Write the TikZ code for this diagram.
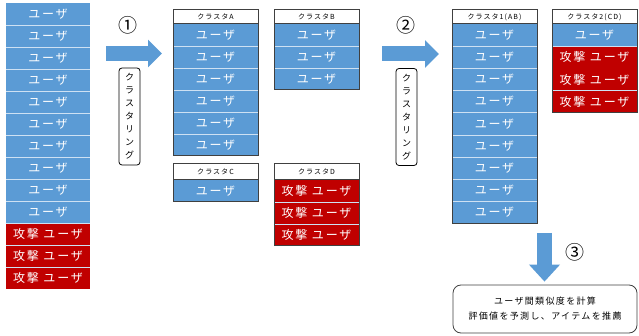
\documentclass[tikz,border=0pt]{standalone}
\usepackage{fontspec}
\usetikzlibrary{arrows.meta}
\newfontfamily\jp{Noto Sans CJK JP}
\newfontfamily\jpwide[LetterSpace=15]{Noto Sans CJK JP}
\definecolor{ublue}{HTML}{5B9BD5}
\definecolor{ared}{HTML}{C00000}
\definecolor{frame}{HTML}{404040}

\tikzset{
  cell/.style={anchor=north west, inner sep=0pt, outer sep=0pt,
    minimum width=85pt, minimum height=22pt, text=white,
    font=\jpwide\fontsize{12}{12}\selectfont},
  ucell/.style={cell, fill=ublue},
  acell/.style={cell, fill=ared},
  head/.style={anchor=north west, inner sep=0pt, outer sep=0pt,
    minimum width=85pt, minimum height=14pt, fill=white, text=black,
    font=\jpwide\fontsize{7}{7}\selectfont},
  sep/.style={white!70!ublue, line width=0.7pt},
  frm/.style={draw=frame, line width=1pt},
  blockarrow/.style={draw=ublue, line width=15pt,
    -{Triangle[length=14pt, width=27pt]}},
  numlabel/.style={inner sep=0pt, font=\jp\fontsize{19}{19}\selectfont},
  vlabel/.style={draw=black, fill=white, rounded corners=3pt, line width=0.8pt,
    inner sep=0pt, minimum width=21pt, minimum height=97pt, align=center,
    font=\jp\fontsize{9}{13}\selectfont},
  resultbox/.style={draw=frame, fill=white, rounded corners=8pt, line width=0.8pt,
    inner sep=0pt, minimum width=184pt, minimum height=48pt, align=center,
    font=\jpwide\fontsize{9}{15}\selectfont}
}

\begin{document}
\begin{tikzpicture}[x=1pt, y=-1pt]
\useasboundingbox (0,0) rectangle (639,336);

% ---- all users before clustering ----
\foreach \i in {1,...,10}
  \node[ucell, minimum width=84pt] (L\i) at (6,{3+22*(\i-1)}) {ユーザ};
\foreach \i in {11,12,13}
  \node[acell, minimum width=84pt] (L\i) at (6,{3+22*(\i-1)}) {攻撃 ユーザ};
\foreach \i in {2,...,13}
  \draw[sep] (L\i.north west) -- (L\i.north east);

% ---- step 1 ----
\node[numlabel] (n1) at (128,25) {①};
\coordinate (a1s) at (106,53.5);
\coordinate (a1e) at (162,53.5);
\draw[blockarrow] (a1s) -- (a1e);
\node[vlabel] (k1) at (129.5,116.5) {ク\\ラ\\ス\\タ\\リ\\ン\\グ};

% cluster A
\node[head] (HA) at (173,10) {クラスタA};
\foreach \i in {1,...,6}
  \node[ucell] (A\i) at (173,{24+22*(\i-1)}) {ユーザ};
\foreach \i in {2,...,6}
  \draw[sep] (A\i.north west) -- (A\i.north east);
\draw[frm] (HA.north west) rectangle (A6.south east);
\draw[frm] (HA.south west) -- (HA.south east);

% cluster B
\node[head] (HB) at (274,10) {クラスタB};
\foreach \i in {1,...,3}
  \node[ucell] (B\i) at (274,{24+22*(\i-1)}) {ユーザ};
\foreach \i in {2,3}
  \draw[sep] (B\i.north west) -- (B\i.north east);
\draw[frm] (HB.north west) rectangle (B3.south east);
\draw[frm] (HB.south west) -- (HB.south east);

% cluster C
\node[head, minimum height=16pt] (HC) at (173,164) {クラスタC};
\node[ucell] (C1) at (173,180) {ユーザ};
\draw[frm] (HC.north west) rectangle (C1.south east);
\draw[frm] (HC.south west) -- (HC.south east);

% cluster D
\node[head, minimum height=16pt] (HD) at (274,164) {クラスタD};
\foreach \i in {1,...,3}
  \node[acell] (D\i) at (274,{180+22*(\i-1)}) {攻撃 ユーザ};
\foreach \i in {2,3}
  \draw[sep] (D\i.north west) -- (D\i.north east);
\draw[frm] (HD.north west) rectangle (D3.south east);
\draw[frm] (HD.south west) -- (HD.south east);

% ---- step 2 ----
\node[numlabel] (n2) at (406,25) {②};
\coordinate (a2s) at (382,54);
\coordinate (a2e) at (439,54);
\draw[blockarrow] (a2s) -- (a2e);
\node[vlabel] (k2) at (406.5,117) {ク\\ラ\\ス\\タ\\リ\\ン\\グ};

% cluster 1 (A+B)
\node[head] (H1) at (452,10) {クラスタ1(AB)};
\foreach \i in {1,...,9}
  \node[ucell] (P\i) at (452,{24+22.2*(\i-1)}) {ユーザ};
\foreach \i in {2,...,9}
  \draw[sep] (P\i.north west) -- (P\i.north east);
\draw[frm] (H1.north west) rectangle (P9.south east);
\draw[frm] (H1.south west) -- (H1.south east);

% cluster 2 (C+D)
\node[head] (H2) at (552,10) {クラスタ2(CD)};
\node[ucell] (Q1) at (552,24) {ユーザ};
\foreach \i in {2,3,4}
  \node[acell] (Q\i) at (552,{24+22.25*(\i-1)}) {攻撃 ユーザ};
\foreach \i in {2,4}
  \draw[sep] (Q\i.north west) -- (Q\i.north east);
\draw[frm] (H2.north west) rectangle (Q4.south east);
\draw[frm] (H2.south west) -- (H2.south east);

% ---- step 3 ----
\node[numlabel] (n3) at (575,252) {③};
\coordinate (a3s) at (544.5,233);
\node[resultbox] (R) at (545,309)
  {ユーザ間類似度を計算\\評価値を予測し、アイテムを推薦};
\draw[blockarrow, -{Triangle[length=17pt, width=30pt]}, shorten >=3pt]
  (a3s) -- (a3s |- R.north);
\end{tikzpicture}
\end{document}
